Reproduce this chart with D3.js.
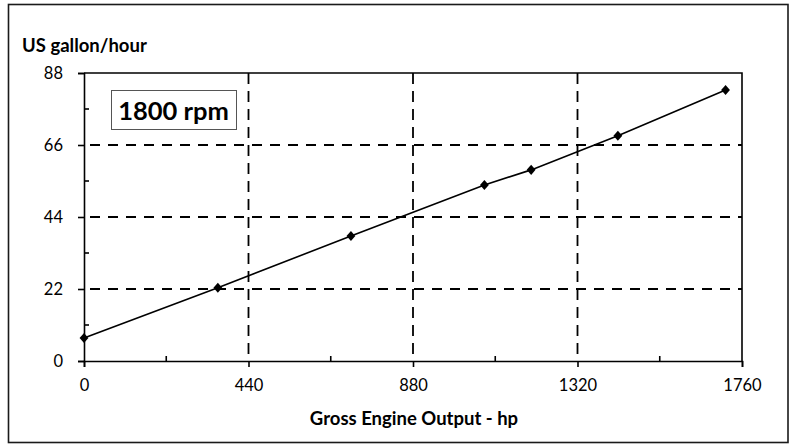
<!DOCTYPE html>
<html>
<head>
<meta charset="utf-8">
<script src="https://cdn.jsdelivr.net/npm/d3@7"></script>
<style>
  body { margin: 0; background: #fff; }
  svg text { font-family: Lato, "Open Sans", sans-serif; fill: #000; }
</style>
</head>
<body>
<svg id="chart" width="791" height="445"></svg>
<script>
// gross engine output (hp) vs fuel use (US gal/h) at 1800 rpm
const hp = [0, 358, 714, 1071, 1196, 1428, 1716];
const gph = [7.0, 22.4, 38.2, 53.8, 58.4, 68.8, 82.8];

const xTicks = [0, 440, 880, 1320, 1760];
const yTicks = [0, 22, 44, 66, 88];
const xMinor = [220, 660, 1100, 1540];
const yMinor = [11, 33, 55, 77];

const width = 791, height = 445;
const margin = { top: 73, right: 49, bottom: 84, left: 84 };

const svg = d3.select("#chart");

// outer frame
svg.append("rect")
  .attr("x", 8.5).attr("y", 4.5)
  .attr("width", 779.5).attr("height", 438)
  .attr("fill", "#fff")
  .attr("stroke", "#1a1a1a")
  .attr("stroke-width", 1.6);

const x = d3.scaleLinear().domain([0, 1760]).range([margin.left, width - margin.right]);
const y = d3.scaleLinear().domain([0, 88]).range([height - margin.bottom, margin.top]);

const g = svg.append("g");

// dashed gridlines
g.selectAll(".vgrid")
  .data(xTicks.slice(1, -1))
  .enter().append("line")
    .attr("x1", d => x(d)).attr("x2", d => x(d))
    .attr("y1", y(88)).attr("y2", y(0))
    .attr("stroke", "#000")
    .attr("stroke-width", 1.8)
    .attr("stroke-dasharray", "11,7");

g.selectAll(".hgrid")
  .data(yTicks.slice(1, -1))
  .enter().append("line")
    .attr("x1", x(0)).attr("x2", x(1760))
    .attr("y1", d => y(d)).attr("y2", d => y(d))
    .attr("stroke", "#000")
    .attr("stroke-width", 1.8)
    .attr("stroke-dasharray", "10,8")
    .attr("stroke-dashoffset", -6);

// top and right border of plot area
g.append("path")
  .attr("d", `M${x(0)},${y(88)}H${x(1760)}V${y(0)}`)
  .attr("fill", "none")
  .attr("stroke", "#000")
  .attr("stroke-width", 1.6);

// axes
const yAxis = g.append("g")
  .attr("transform", `translate(${x(0)},0)`)
  .call(d3.axisLeft(y).tickValues(yTicks).tickSize(6).tickPadding(15).tickFormat(d3.format("d")));

const xAxis = g.append("g")
  .attr("transform", `translate(0,${y(0)})`)
  .call(d3.axisBottom(x).tickValues(xTicks).tickSize(6).tickPadding(12).tickFormat(d3.format("d")));

[xAxis, yAxis].forEach(a => {
  a.select(".domain").attr("stroke", "#000").attr("stroke-width", 1.6);
  a.selectAll(".tick line").attr("stroke", "#000").attr("stroke-width", 1.6);
  a.selectAll(".tick text")
    .attr("font-family", "Lato, sans-serif")
    .attr("font-size", 16.5)
    .attr("fill", "#111");
});

// minor ticks point inward
g.selectAll(".yminor")
  .data(yMinor)
  .enter().append("line")
    .attr("x1", x(0)).attr("x2", x(0) + 5)
    .attr("y1", d => y(d)).attr("y2", d => y(d))
    .attr("stroke", "#000").attr("stroke-width", 1.6);

g.selectAll(".xminor")
  .data(xMinor)
  .enter().append("line")
    .attr("x1", d => x(d)).attr("x2", d => x(d))
    .attr("y1", y(0)).attr("y2", y(0) - 5)
    .attr("stroke", "#000").attr("stroke-width", 1.6);

// data line + diamond markers
const line = d3.line()
  .x((d, i) => x(hp[i]))
  .y(d => y(d));

g.append("path")
  .datum(gph)
  .attr("d", line)
  .attr("fill", "none")
  .attr("stroke", "#000")
  .attr("stroke-width", 1.6);

g.selectAll(".pt")
  .data(gph)
  .enter().append("path")
    .attr("d", d3.symbol(d3.symbolDiamond2, 64))
    .attr("transform", (d, i) => `translate(${x(hp[i])},${y(d)}) scale(0.88,1)`)
    .attr("fill", "#000");

// axis titles
svg.append("text")
  .attr("x", 22).attr("y", 52)
  .attr("font-size", 18.5)
  .attr("font-weight", "bold")
  .text("US gallon/hour");

svg.append("text")
  .attr("x", 414).attr("y", 425)
  .attr("text-anchor", "middle")
  .attr("font-size", 18.5)
  .attr("font-weight", "bold")
  .text("Gross Engine Output - hp");

// rpm label box
svg.append("rect")
  .attr("x", 111.5).attr("y", 90.5)
  .attr("width", 125).attr("height", 39)
  .attr("fill", "#fff")
  .attr("stroke", "#555")
  .attr("stroke-width", 1);

svg.append("text")
  .attr("x", 173.5).attr("y", 119.5)
  .attr("text-anchor", "middle")
  .attr("font-size", 25.5)
  .attr("font-weight", "bold")
  .text("1800 rpm");
</script>
</body>
</html>
